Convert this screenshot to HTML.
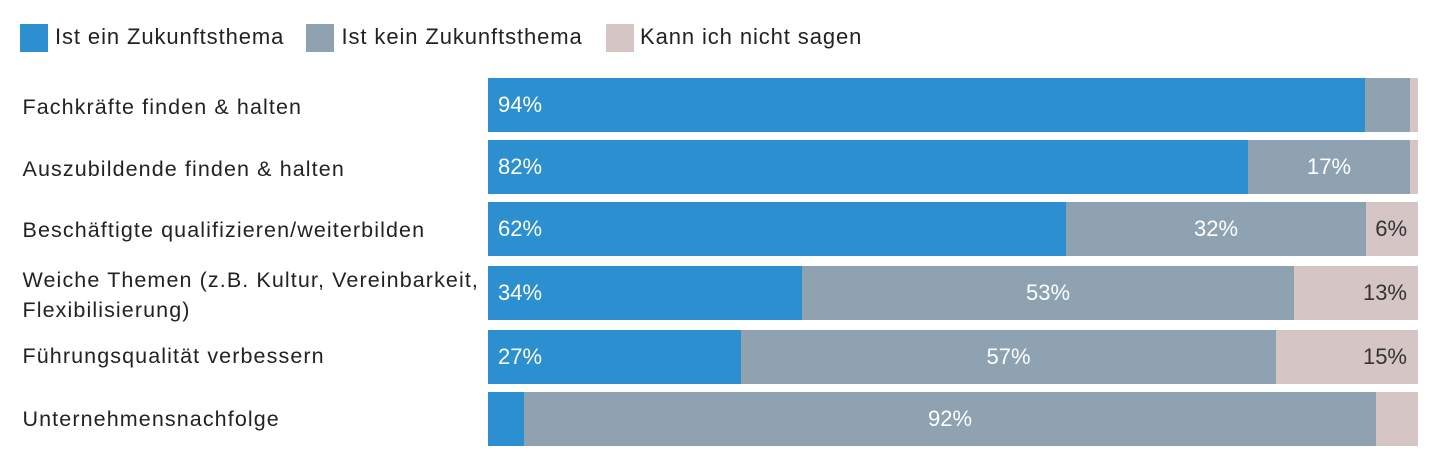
<!DOCTYPE html>
<html>
<head>
<meta charset="utf-8">
<style>
  html, body { margin:0; padding:0; background:#fff; }
  body { width:1440px; height:461px; position:relative; overflow:hidden;
         font-family:"Liberation Sans", Arial, sans-serif; color:#222; }
  .sq { position:absolute; width:28px; height:28px; top:24px; }
  .lg { position:absolute; top:22.7px; font-size:22px; line-height:28px; letter-spacing:0.9px; white-space:nowrap; color:#222; }
  .lbl { position:absolute; left:22.5px; font-size:21.5px; line-height:30px; letter-spacing:1.1px; white-space:nowrap; color:#222; }
  .bar { position:absolute; left:488px; width:930px; }
  .seg { position:absolute; top:0; height:100%; display:flex; align-items:center; font-size:22px; white-space:nowrap; }
  .b { background:#2b8fd0; color:#fff; }
  .g { background:#8fa2b1; color:#fff; justify-content:center; }
  .p { background:#d5c5c5; color:#333; justify-content:flex-end; }
  .b span { padding-left:10px; }
  .p span { padding-right:11px; }
</style>
</head>
<body>
  <div class="sq" style="left:20px;background:#2b8fd0"></div>
  <div class="lg" style="left:55px">Ist ein Zukunftsthema</div>
  <div class="sq" style="left:306px;background:#8fa2b1"></div>
  <div class="lg" style="left:341.5px">Ist kein Zukunftsthema</div>
  <div class="sq" style="left:606px;background:#d5c5c5"></div>
  <div class="lg" style="left:640px">Kann ich nicht sagen</div>

  <div class="lbl" style="top:91.5px">Fachkräfte finden &amp; halten</div>
  <div class="lbl" style="top:153.5px">Auszubildende finden &amp; halten</div>
  <div class="lbl" style="top:215px">Beschäftigte qualifizieren/weiterbilden</div>
  <div class="lbl" style="top:264.5px">Weiche Themen (z.B. Kultur, Vereinbarkeit,<br>Flexibilisierung)</div>
  <div class="lbl" style="top:340.5px">Führungsqualität verbessern</div>
  <div class="lbl" style="top:404px">Unternehmensnachfolge</div>

  <!-- row 1 -->
  <div class="bar" style="top:78px;height:53.5px">
    <div class="seg b" style="left:0;width:877px"><span>94%</span></div>
    <div class="seg g" style="left:877px;width:45px"></div>
    <div class="seg p" style="left:922px;width:8px"></div>
  </div>
  <!-- row 2 -->
  <div class="bar" style="top:140px;height:53.5px">
    <div class="seg b" style="left:0;width:760px"><span>82%</span></div>
    <div class="seg g" style="left:760px;width:162px"><span>17%</span></div>
    <div class="seg p" style="left:922px;width:8px"></div>
  </div>
  <!-- row 3 -->
  <div class="bar" style="top:202px;height:53.5px">
    <div class="seg b" style="left:0;width:578px"><span>62%</span></div>
    <div class="seg g" style="left:578px;width:300px"><span>32%</span></div>
    <div class="seg p" style="left:878px;width:52px"><span>6%</span></div>
  </div>
  <!-- row 4 -->
  <div class="bar" style="top:266px;height:54px">
    <div class="seg b" style="left:0;width:314px"><span>34%</span></div>
    <div class="seg g" style="left:314px;width:492px"><span>53%</span></div>
    <div class="seg p" style="left:806px;width:124px"><span>13%</span></div>
  </div>
  <!-- row 5 -->
  <div class="bar" style="top:330px;height:54px">
    <div class="seg b" style="left:0;width:253px"><span>27%</span></div>
    <div class="seg g" style="left:253px;width:535px"><span>57%</span></div>
    <div class="seg p" style="left:788px;width:142px"><span>15%</span></div>
  </div>
  <!-- row 6 -->
  <div class="bar" style="top:392px;height:53.5px">
    <div class="seg b" style="left:0;width:36px"></div>
    <div class="seg g" style="left:36px;width:852px"><span>92%</span></div>
    <div class="seg p" style="left:888px;width:42px"></div>
  </div>
</body>
</html>
